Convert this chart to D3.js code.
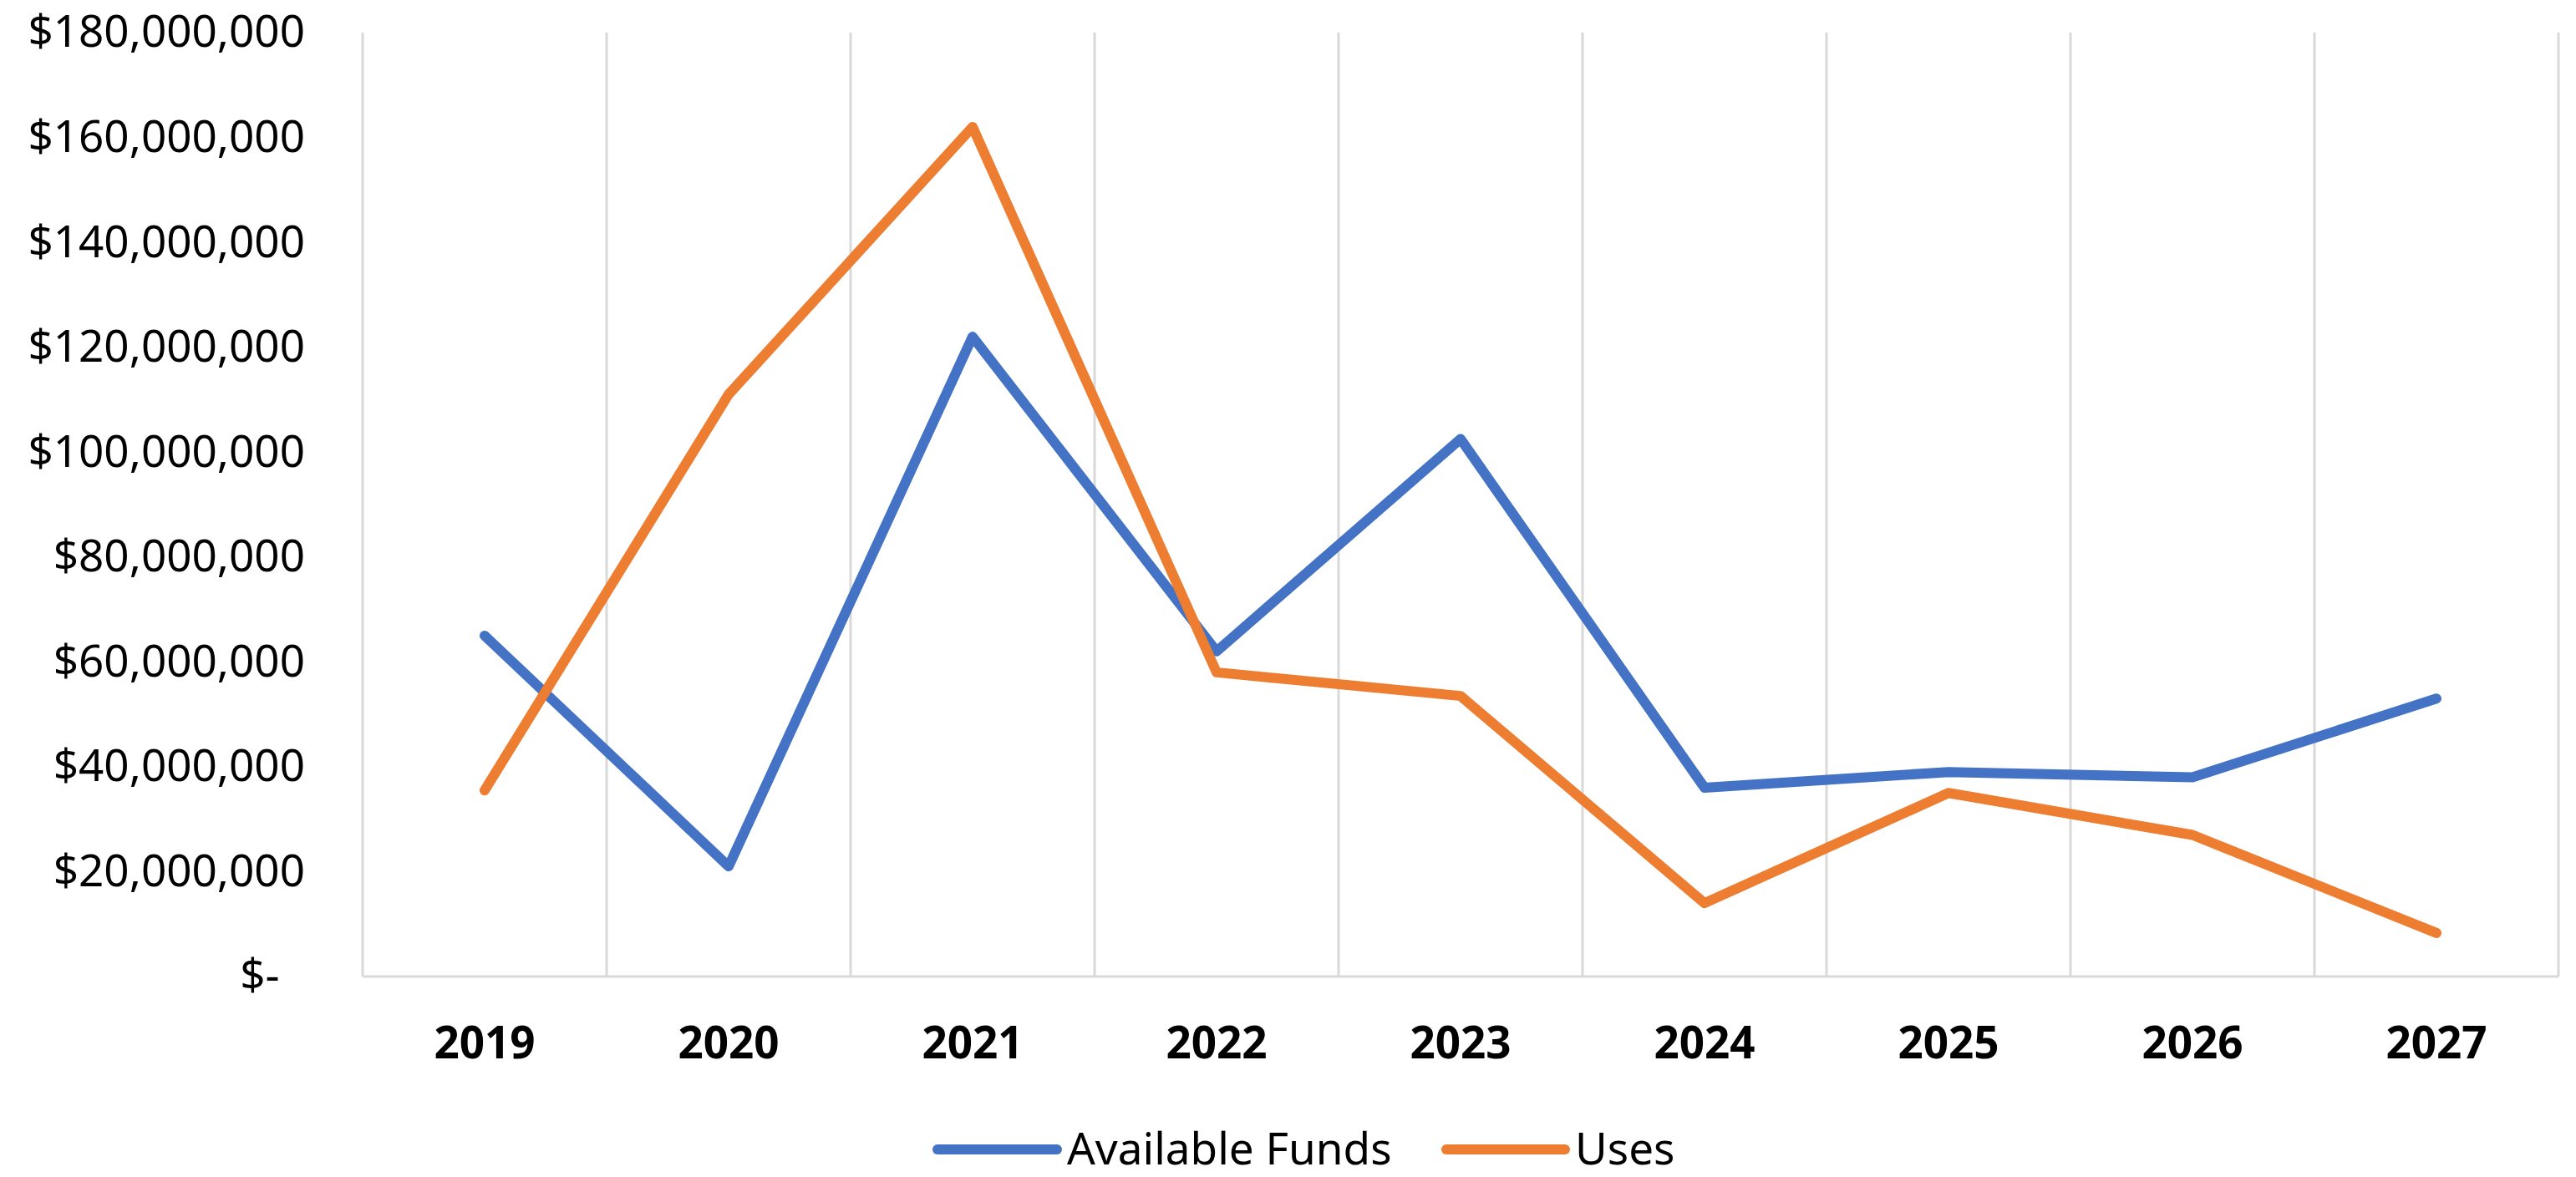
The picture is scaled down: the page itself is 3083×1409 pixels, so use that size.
<!DOCTYPE html>
<html>
<head>
<meta charset="utf-8">
<script src="https://cdn.jsdelivr.net/npm/d3@7"></script>
<style>
  body { margin: 0; background: #fff; }
  text { font-family: "Noto Sans", "Open Sans", sans-serif; fill: #000; }
</style>
</head>
<body>
<div id="chart"></div>
<script>
// chart data
const years = ["2019", "2020", "2021", "2022", "2023", "2024", "2025", "2026", "2027"];
const availableFunds = [65000000, 21000000, 122000000, 62000000, 102500000, 36000000, 39000000, 38000000, 53000000];
const uses = [35500000, 111000000, 162000000, 58000000, 53500000, 14000000, 35000000, 27000000, 8300000];
const yTicks = [0, 20000000, 40000000, 60000000, 80000000, 100000000, 120000000, 140000000, 160000000, 180000000];
const seriesNames = ["Available Funds", "Uses"];
const seriesColors = ["#4472C4", "#ED7D31"];

// =====================
// size and layout
// =====================
const outerWidth = 3083,
    outerHeight = 1409,
    plot = {left: 434, right: 3062, top: 39, bottom: 1169};

const svg = d3.select("#chart").append("svg")
    .attr("width", outerWidth)
    .attr("height", outerHeight);

const x = d3.scaleBand()
    .domain(years)
    .range([plot.left, plot.right])
    .padding(0);

const y = d3.scaleLinear()
    .domain([0, 180000000])
    .range([plot.bottom, plot.top]);

const money = d3.format("$,");

// vertical gridlines on the category boundaries
const edges = years.map(d => x(d)).concat([x.range()[1]]);
svg.append("g")
  .selectAll("line")
  .data(edges)
  .join("line")
    .attr("x1", d => d)
    .attr("x2", d => d)
    .attr("y1", y(180000000))
    .attr("y2", y(0))
    .attr("stroke", "#d9d9d9")
    .attr("stroke-width", 3);

// bottom axis line
svg.append("line")
    .attr("x1", plot.left)
    .attr("x2", plot.right)
    .attr("y1", y(0))
    .attr("y2", y(0))
    .attr("stroke", "#d9d9d9")
    .attr("stroke-width", 3);

// y axis labels
const yAxis = svg.append("g")
    .attr("transform", "translate(" + plot.left + ",0)")
    .call(d3.axisLeft(y)
        .tickValues(yTicks)
        .tickSize(0)
        .tickPadding(69)
        .tickFormat(d => d === 0 ? "$-\u2007" : money(d)));
yAxis.select(".domain").remove();
yAxis.selectAll("text")
    .attr("font-size", 53)
    .style("white-space", "pre")
    .attr("font-family", null)
    .attr("fill", "#000");

// x axis labels
const xAxis = svg.append("g")
    .attr("transform", "translate(0," + y(0) + ")")
    .call(d3.axisBottom(x).tickSize(0).tickPadding(60));
xAxis.select(".domain").remove();
xAxis.selectAll("text")
    .attr("font-size", 53)
    .attr("font-weight", "bold")
    .attr("font-family", null)
    .attr("fill", "#000");

// lines
const line = d3.line()
    .x((d, i) => x(years[i]) + x.bandwidth() / 2)
    .y(d => y(d));

svg.selectAll(".series")
  .data([availableFunds, uses])
  .join("path")
    .attr("class", "series")
    .attr("d", line)
    .attr("fill", "none")
    .attr("stroke", (d, i) => seriesColors[i])
    .attr("stroke-width", 12)
    .attr("stroke-linejoin", "round")
    .attr("stroke-linecap", "round");

// legend (pulled up a little so the text fits inside the picture)
const legendItems = [
    {x1: 1122, x2: 1265, tx: 1277},
    {x1: 1731, x2: 1873, tx: 1885}
];
const legend = svg.append("g").selectAll("g")
  .data(seriesNames)
  .join("g");

legend.append("line")
    .attr("x1", (d, i) => legendItems[i].x1)
    .attr("x2", (d, i) => legendItems[i].x2)
    .attr("y1", 1376)
    .attr("y2", 1376)
    .attr("stroke", (d, i) => seriesColors[i])
    .attr("stroke-width", 12)
    .attr("stroke-linecap", "round");

legend.append("text")
    .attr("x", (d, i) => legendItems[i].tx)
    .attr("y", 1394)
    .attr("font-size", 53)
    .text(d => d);
</script>
</body>
</html>
